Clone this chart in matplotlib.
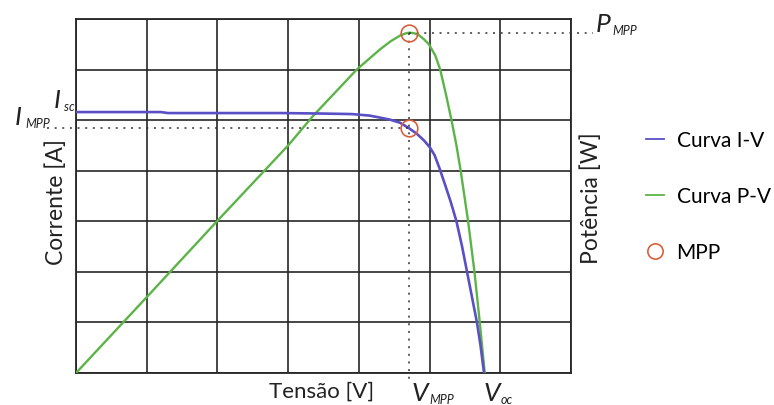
import matplotlib
matplotlib.use("Agg")
import matplotlib.pyplot as plt
from matplotlib.lines import Line2D

# ---- data (grid units) ----
V_iv = [0, 1.2, 1.3, 2.0, 2.9, 3.5, 3.9, 4.15, 4.3, 4.44, 4.58, 4.71, 4.82, 4.92, 5.00,
        5.07, 5.14, 5.22, 5.30, 5.38, 5.46, 5.53, 5.60, 5.67, 5.72, 5.77]
I_iv = [5.16, 5.16, 5.14, 5.14, 5.14, 5.13, 5.12, 5.09, 5.05, 5.01, 4.95, 4.84, 4.73, 4.60, 4.47,
        4.31, 4.05, 3.72, 3.38, 3.00, 2.50, 2.00, 1.50, 1.00, 0.55, 0.0]

V_pv = [0, 1, 2, 3, 3.35, 3.97, 4.3, 4.45, 4.58, 4.65, 4.71, 4.78, 4.85, 4.92, 4.99, 5.08,
        5.15, 5.23, 5.31, 5.38, 5.44, 5.545, 5.635, 5.71, 5.78]
P_pv = [0, 1.50, 3.01, 4.50, 5.08, 6.00, 6.40, 6.56, 6.67, 6.71, 6.73, 6.72, 6.68, 6.60, 6.50, 6.28,
        6.00, 5.52, 5.00, 4.50, 4.00, 3.00, 2.00, 1.00, 0.0]

V_mpp, I_mpp, P_mpp = 4.71, 4.84, 6.73
grid_ticks = [0, 1, 2, 3, 4, 5, 6, 7]
legend_labels = ["Curva I-V", "Curva P-V", "MPP"]

FONT = "Lato"
plt.rcParams['font.family'] = [FONT, 'DejaVu Sans']

W, H = 774, 406
fig = plt.figure(figsize=(W / 100, H / 100), dpi=100)
ax = fig.add_axes([76 / W, 1 - 374 / H, (571 - 76) / W, (374 - 20) / H])

grid_col = "#262626"
ax.set_xlim(0, 7)
ax.set_ylim(0, 7)
ax.set_xticks(grid_ticks)
ax.set_yticks(grid_ticks)
ax.tick_params(length=0, labelbottom=False, labelleft=False)
ax.grid(True, color=grid_col, linewidth=1.2)
for s in ax.spines.values():
    s.set_color(grid_col)
    s.set_linewidth(1.3)

blue = "#5a4fc4"
green = "#5cb448"
red = "#d8603e"

ax.plot(V_pv, P_pv, color=green, lw=1.7, zorder=3)
ax.plot(V_iv, I_iv, color=blue, lw=1.9, zorder=4)

dot = dict(color="#333333", lw=1.1, linestyle=(0, (1.3, 3.7)), clip_on=False, zorder=5)
ax.plot([V_mpp, V_mpp], [P_mpp, -0.16], **dot)
ax.plot([V_mpp, 7.31], [P_mpp, P_mpp], **dot)
ax.plot([-0.41, V_mpp], [I_mpp, I_mpp], **dot)

ax.plot([V_mpp, V_mpp], [P_mpp, I_mpp], linestyle="none", marker="o", ms=12,
        mfc="none", mec=red, mew=1.2, zorder=6, clip_on=False)

def fx(x):
    return x / W

def fy(y):
    return 1 - y / H

big = 19
sub = 9
txt = "#222222"
# axis labels
fig.text(fx(322), fy(392), "Tensão [V]", fontsize=16, ha="center", va="center", color=txt)
fig.text(fx(56), fy(202), "Corrente [A]", fontsize=16.5, ha="center", va="center",
         rotation=90, color=txt)
fig.text(fx(591), fy(198), "Potência [W]", fontsize=16.5, ha="center", va="center",
         rotation=90, color=txt)

def lab(x, y, main, subs, dx):
    fig.text(fx(x), fy(y), main, fontsize=big, style="italic", ha="left", va="baseline", color=txt)
    fig.text(fx(x + dx), fy(y + 3), subs, fontsize=sub, style="italic", ha="left",
             va="baseline", color=txt)

lab(596, 32, "P", "MPP", 16)
lab(54, 108, "I", "sc", 10)
lab(15, 125, "I", "MPP", 10)
lab(412, 401, "V", "MPP", 17)
lab(484, 401, "V", "oc", 17)

handles = [Line2D([], [], color=blue, lw=1.3),
           Line2D([], [], color=green, lw=1.3),
           Line2D([], [], linestyle="none", marker="o", ms=11, mfc="none", mec=red, mew=1.2)]
fig.legend(handles, legend_labels, loc="upper left",
           bbox_to_anchor=(fx(638), fy(123)), frameon=False, fontsize=15,
           handlelength=0.85, handletextpad=0.6, labelspacing=1.72, borderaxespad=0)

fig.savefig("out.png", dpi=100)
